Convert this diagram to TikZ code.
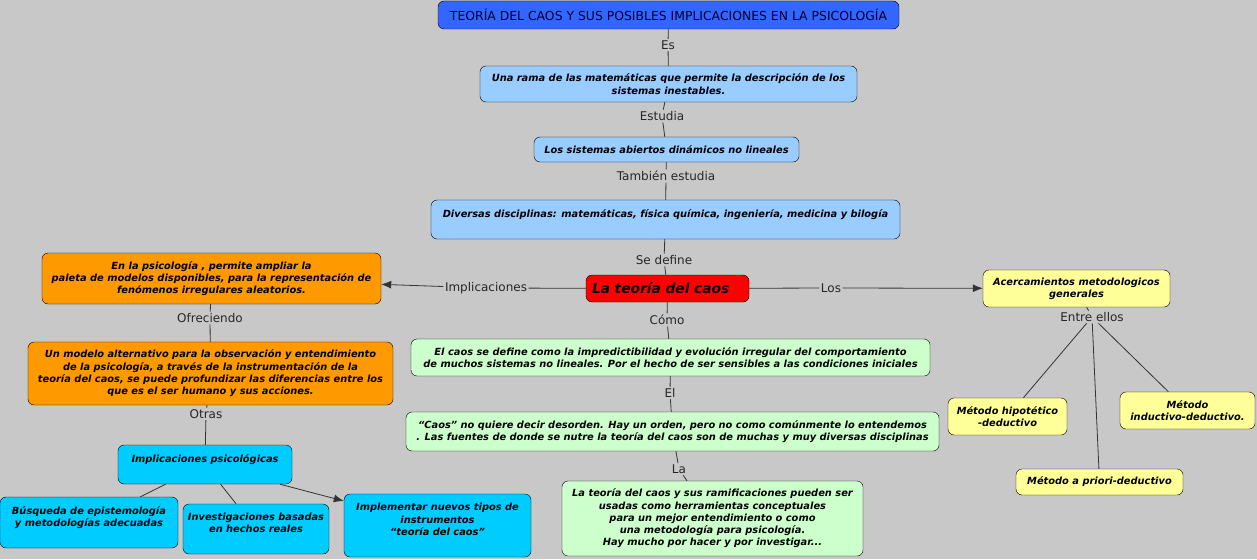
\documentclass[tikz,border=0pt]{standalone}
\usepackage{fontspec}
\setmainfont{DejaVu Sans}
\usetikzlibrary{arrows.meta,positioning}
\definecolor{fondo}{HTML}{C8C8C8}
\definecolor{azul}{HTML}{3366FF}
\definecolor{celeste}{HTML}{99CCFF}
\definecolor{rojo}{HTML}{FF0000}
\definecolor{naranja}{HTML}{FF9900}
\definecolor{verde}{HTML}{CCFFCC}
\definecolor{amarillo}{HTML}{FFFF99}
\definecolor{cian}{HTML}{00CCFF}
\tikzset{cpt/.style={draw=black, rounded corners=6pt, align=center, inner sep=2pt,
    font=\fontsize{9.85}{12.3}\selectfont\bfseries\itshape}}
\tikzset{lnk/.style={inner sep=1.5pt, font=\fontsize{12}{14}\selectfont, text=black!85}}
\tikzset{con/.style={draw=black!80, line width=0.8pt}}
\tikzset{tip/.style={-{Latex[length=10pt, width=8pt]}}}

\begin{document}
\begin{tikzpicture}[x=1pt, y=-1pt]
    \useasboundingbox (0, 0) rectangle (1257, 559);
    \fill[fondo] (0, 0) rectangle (1257, 559);

    % concepts
    \node[cpt, fill=azul, minimum width=461, minimum height=28,
          font=\fontsize{12.4}{14}\selectfont, text=black!85!blue] (tit) at (668.5, 15)
          {TEORÍA DEL CAOS Y SUS POSIBLES IMPLICACIONES EN LA PSICOLOGÍA};
    \node[cpt, fill=celeste, minimum width=377, minimum height=36] (rama) at (668.5, 84)
          {Una rama de las matemáticas que permite la descripción de los\\sistemas inestables.};
    \node[cpt, fill=celeste, minimum width=265, minimum height=25] (sis) at (666.5, 149.5)
          {Los sistemas abiertos dinámicos no lineales};
    \node[cpt, fill=celeste, minimum width=469, minimum height=39] (dis) at (665.5, 219.5)
          {Diversas disciplinas: matemáticas, física química, ingeniería, medicina y bilogía\\\mbox{}};
    \node[cpt, fill=rojo, minimum width=163, minimum height=27, align=left, text width=151,
          font=\fontsize{13.8}{16}\selectfont\bfseries\itshape] (caos) at (667.5, 288.5)
          {La teoría del caos};

    \node[cpt, fill=naranja, minimum width=339, minimum height=51] (psi) at (211.5, 278.5)
          {En la psicología , permite ampliar la\\paleta de modelos disponibles, para la representación de\\fenómenos irregulares aleatorios.};
    \node[cpt, fill=naranja, minimum width=365, minimum height=63] (mod) at (210.5, 373.5)
          {Un modelo alternativo para la observación y entendimiento\\de la psicología, a través de la instrumentación de la\\teoría del caos, se puede profundizar las diferencias entre los\\que es el ser humano y sus acciones.};
    \node[cpt, fill=cian, minimum width=174, minimum height=39] (imp) at (205, 464.5)
          {Implicaciones psicológicas\\\mbox{}};
    \node[cpt, fill=cian, minimum width=178, minimum height=51] (bus) at (89, 522.5)
          {Búsqueda de epistemología\\y metodologías adecuadas\\\mbox{}};
    \node[cpt, fill=cian, minimum width=146, minimum height=50] (inv) at (256, 529)
          {Investigaciones basadas\\en hechos reales\\\mbox{}};
    \node[cpt, fill=cian, minimum width=187, minimum height=63] (ins) at (437.5, 525.5)
          {Implementar nuevos tipos de\\instrumentos\\``teoría del caos''\\\mbox{}};

    \node[cpt, fill=verde, minimum width=519, minimum height=37] (def) at (670.5, 357.5)
          {El caos se define como la impredictibilidad y evolución irregular del comportamiento\\de muchos sistemas no lineales. Por el hecho de ser sensibles a las condiciones iniciales};
    \node[cpt, fill=verde, minimum width=533, minimum height=39] (ord) at (672.5, 431.5)
          {``Caos'' no quiere decir desorden. Hay un orden, pero no como comúnmente lo entendemos\\. Las fuentes de donde se nutre la teoría del caos son de muchas y muy diversas disciplinas};
    \node[cpt, fill=verde, minimum width=301, minimum height=75] (her) at (712.5, 518.5)
          {La teoría del caos y sus ramificaciones pueden ser\\usadas como herramientas conceptuales\\para un mejor entendimiento o como\\una metodología para psicología.\\Hay mucho por hacer y por investigar...};

    \node[cpt, fill=amarillo, minimum width=187, minimum height=37] (ace) at (1076.5, 288.5)
          {Acercamientos metodologicos\\generales};
    \node[cpt, fill=amarillo, minimum width=119, minimum height=37] (hip) at (1007.5, 416.5)
          {Método hipotético\\-deductivo};
    \node[cpt, fill=amarillo, minimum width=135, minimum height=37] (ind) at (1187.5, 410.5)
          {Método\\inductivo-deductivo.};
    \node[cpt, fill=amarillo, minimum width=167, minimum height=26] (pri) at (1099.5, 482)
          {Método a priori-deductivo};

    % linking phrases
    \node[lnk] (es) at (668, 45) {Es};
    \node[lnk] (est) at (662, 116) {Estudia};
    \node[lnk] (tam) at (666, 176) {También estudia};
    \node[lnk] (sed) at (664, 260) {Se define};
    \node[lnk] (impl) at (486, 288) {Implicaciones};
    \node[lnk] (los) at (831, 288) {Los};
    \node[lnk] (com) at (667, 320) {Cómo};
    \node[lnk] (el) at (670, 393) {El};
    \node[lnk] (la) at (679, 469) {La};
    \node[lnk] (ofr) at (210, 318) {Ofreciendo};
    \node[lnk] (otr) at (206, 414) {Otras};
    \node[lnk] (ent) at (1092, 317) {Entre ellos};

    % connectors
    \draw[con] (tit) -- (es) -- (rama);
    \draw[con] (rama) -- (est) -- (sis);
    \draw[con] (sis) -- (tam) -- (dis);
    \draw[con] (dis) -- (sed) -- (caos);
    \draw[con] (caos) -- (impl);
    \draw[con, tip] (impl) -- (psi);
    \draw[con] (caos) -- (los);
    \draw[con, tip] (los) -- (ace);
    \draw[con] (caos) -- (com) -- (def);
    \draw[con] (def) -- (el) -- (ord);
    \draw[con] (ord) -- (la) -- (her);
    \draw[con] (psi) -- (ofr) -- (mod);
    \draw[con] (mod) -- (otr) -- (imp);
    \draw[con] (imp) -- (bus);
    \draw[con] (imp) -- (inv);
    \draw[con, tip] (imp) -- (ins);
    \draw[con] (ace) -- (ent);
    \draw[con] (ent) -- (hip);
    \draw[con] (ent) -- (pri);
    \draw[con] (ent) -- (ind);
\end{tikzpicture}
\end{document}
